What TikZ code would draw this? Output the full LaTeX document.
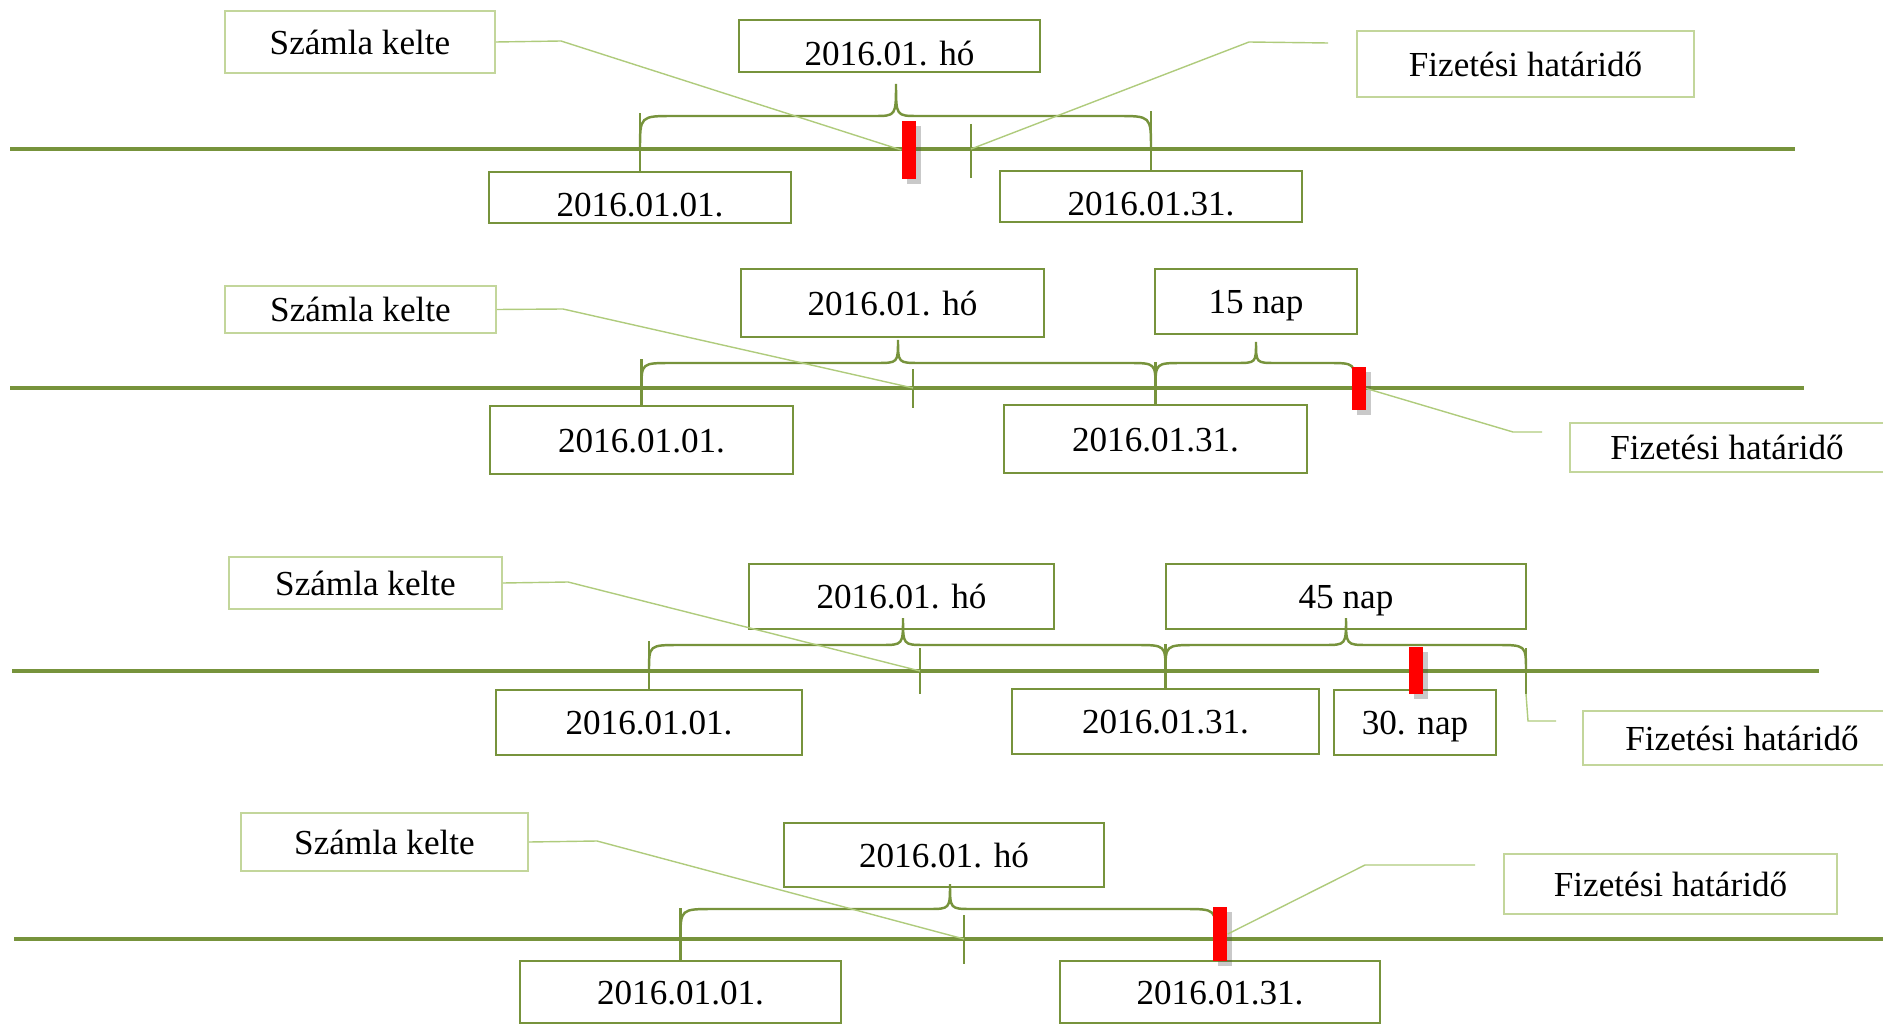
\documentclass[tikz,border=0pt]{standalone}
\usepackage{fontspec}
\setmainfont{Liberation Serif}
\usetikzlibrary{shadows}
\definecolor{axisgreen}{HTML}{77933C}
\definecolor{palegreen}{HTML}{C3D69B}
\definecolor{leadgreen}{HTML}{AFCB7C}
\definecolor{markred}{HTML}{FF0000}

\begin{document}
\begin{tikzpicture}[x=0.1mm,y=-0.1mm]
\tikzstyle{every node}=[font=\fontsize{10}{12}\selectfont,text height=7pt,text depth=0pt,inner sep=0pt];
\tikzstyle{datebox}=[draw=axisgreen,line width=0.8pt];
\tikzstyle{lowbox}=[datebox,text height=11pt];
\tikzstyle{notebox}=[draw=palegreen,line width=0.5pt];
\tikzstyle{axis}=[draw=axisgreen,line width=1.1pt];
\tikzstyle{tick}=[draw=axisgreen,line width=0.65pt];
\tikzstyle{brace}=[draw=axisgreen,line width=0.7pt];
\tikzstyle{leader}=[draw=leadgreen,line width=0.4pt];
\tikzstyle{marker}=[fill=markred,minimum width=1.4mm,text height=0pt,
  drop shadow={shadow xshift=0.5mm,shadow yshift=-0.5mm,opacity=0.3,fill=black!70}];
\useasboundingbox (0,0) rectangle (1883,1024);

% first row
\draw[axis] (10,149) -- (1795,149);
\node[notebox,minimum width=27mm,minimum height=6.2mm] (kelte1) at (360,42) {Számla kelte};
\node[lowbox,minimum width=30.1mm,minimum height=5.2mm] (ho1) at (889.5,46) {2016.01. hó};
\node[notebox,minimum width=33.7mm,minimum height=6.6mm] (hatarido1) at (1525.5,64) {Fizetési határidő};
\node[lowbox,minimum width=30.2mm,minimum height=5.1mm] (start1) at (640,197.5) {2016.01.01.};
\node[lowbox,minimum width=30.2mm,minimum height=5.1mm] (end1) at (1151,196.5) {2016.01.31.};
\draw[brace] (640,149) .. controls (640,116) .. (674,116) -- (874,116) .. controls (896,116) .. (896,84)
  .. controls (896,116) .. (918,116) -- (1117,116) .. controls (1151,116) .. (1151,149);
\draw[tick] (start1.north) -- ++(0,-58);
\draw[tick] (end1.north) -- ++(0,-59);
\coordinate (due1) at (971,149);
\draw[tick] (971,124) -- (971,178);
\node[marker,minimum height=5.8mm] (mark1) at (909,150) {};
\coordinate (h1) at (1328,43);
\draw[leader] (kelte1.east) -- (561,41) -- (mark1.west);
\draw[leader] (h1) -- (1249,42) -- (due1);

% second row
\draw[axis] (10,388) -- (1804,388);
\node[notebox,minimum width=27.1mm,minimum height=4.7mm] (kelte2) at (360.5,309.5) {Számla kelte};
\node[datebox,minimum width=30.3mm,minimum height=6.8mm] (ho2) at (892.5,303) {2016.01. hó};
\node[datebox,minimum width=20.2mm,minimum height=6.5mm] (nap15) at (1256,301.5) {15 nap};
\node[datebox,minimum width=30.3mm,minimum height=6.8mm] (start2) at (641.5,440) {2016.01.01.};
\node[datebox,minimum width=30.3mm,minimum height=6.8mm] (end2) at (1155.5,439) {2016.01.31.};
\node[notebox,minimum width=31.4mm,minimum height=4.9mm] (hatarido2) at (1727,447.5) {Fizetési határidő};
\draw[brace] (641.5,388) .. controls (641.5,363) .. (672,363) -- (876,363) .. controls (898,363) .. (898,340)
  .. controls (898,363) .. (920,363) -- (1128,363) .. controls (1155.5,363) .. (1155.5,388);
\draw[brace] (1155.5,388) .. controls (1155.5,363) .. (1183,363) -- (1236,363) .. controls (1256,363) .. (1256,342)
  .. controls (1256,363) .. (1276,363) -- (1328,363) .. controls (1355,363) .. (1355,388);
\draw[tick] (start2.north) -- ++(0,-46);
\draw[tick] (end2.north) -- ++(0,-42);
\coordinate (issue2) at (913,388);
\draw[tick] (913,369) -- (913,408);
\node[marker,minimum height=4.3mm] (mark2) at (1358.5,388.5) {};
\coordinate (h2) at (1542,432);
\draw[leader] (kelte2.east) -- (563,309) -- (issue2);
\draw[leader] (mark2.east) -- (1513,432) -- (h2);

% third row
\draw[axis] (12,671) -- (1819,671);
\node[notebox,minimum width=27.3mm,minimum height=5.2mm] (kelte3) at (365.5,583) {Számla kelte};
\node[datebox,minimum width=30.5mm,minimum height=6.5mm] (ho3) at (901.5,596.5) {2016.01. hó};
\node[datebox,minimum width=36mm,minimum height=6.5mm] (nap45) at (1346,596.5) {45 nap};
\node[datebox,minimum width=30.6mm,minimum height=6.5mm] (start3) at (649,722.5) {2016.01.01.};
\node[datebox,minimum width=30.7mm,minimum height=6.5mm] (end3) at (1165.5,721.5) {2016.01.31.};
\node[datebox,minimum width=16.2mm,minimum height=6.5mm] (nap30) at (1415,722.5) {30. nap};
\node[notebox,minimum width=31.8mm,minimum height=5.4mm] (hatarido3) at (1742,738) {Fizetési határidő};
\draw[brace] (649,671) .. controls (649,645) .. (680,645) -- (881,645) .. controls (903,645) .. (903,618)
  .. controls (903,645) .. (925,645) -- (1135,645) .. controls (1165.5,645) .. (1165.5,671);
\draw[brace] (1165.5,671) .. controls (1165.5,645) .. (1196,645) -- (1324,645) .. controls (1346,645) .. (1346,618)
  .. controls (1346,645) .. (1368,645) -- (1496,645) .. controls (1526,645) .. (1526,671);
\draw[tick] (start3.north) -- ++(0,-48);
\draw[tick] (end3.north) -- ++(0,-44);
\coordinate (issue3) at (920,671);
\draw[tick] (920,648) -- (920,694);
\coordinate (due3) at (1526,694);
\draw[tick] (1526,648) -- (due3);
\node[marker,minimum height=4.7mm] (mark3) at (1416,670.5) {};
\coordinate (h3) at (1556,721);
\draw[leader] (kelte3.east) -- (568,582) -- (issue3);
\draw[leader] (due3) -- (1528,721) -- (h3);

% fourth row
\draw[axis] (14,939) -- (1883,939);
\node[notebox,minimum width=28.7mm,minimum height=5.8mm] (kelte4) at (384.5,842) {Számla kelte};
\node[datebox,minimum width=32mm,minimum height=6.4mm] (ho4) at (944,855) {2016.01. hó};
\node[notebox,minimum width=33.3mm,minimum height=6mm] (hatarido4) at (1670.5,884) {Fizetési határidő};
\node[datebox,minimum width=32.1mm,minimum height=6.2mm] (start4) at (680.5,992) {2016.01.01.};
\node[datebox,minimum width=32mm,minimum height=6.2mm] (end4) at (1220,992) {2016.01.31.};
\draw[brace] (680.5,939) .. controls (680.5,909) .. (714,909) -- (928,909) .. controls (950,909) .. (950,884)
  .. controls (950,909) .. (972,909) -- (1184,909) .. controls (1216,909) .. (1216,939);
\draw[tick] (start4.north) -- ++(0,-52);
\coordinate (issue4) at (964,939);
\draw[tick] (964,915) -- (964,964);
\node[marker,minimum height=5.4mm] (mark4) at (1220,934) {};
\coordinate (h4) at (1475,865);
\draw[leader] (kelte4.east) -- (597,841) -- (issue4);
\draw[leader] (mark4.east) -- (1365,865) -- (h4);
\end{tikzpicture}
\end{document}
